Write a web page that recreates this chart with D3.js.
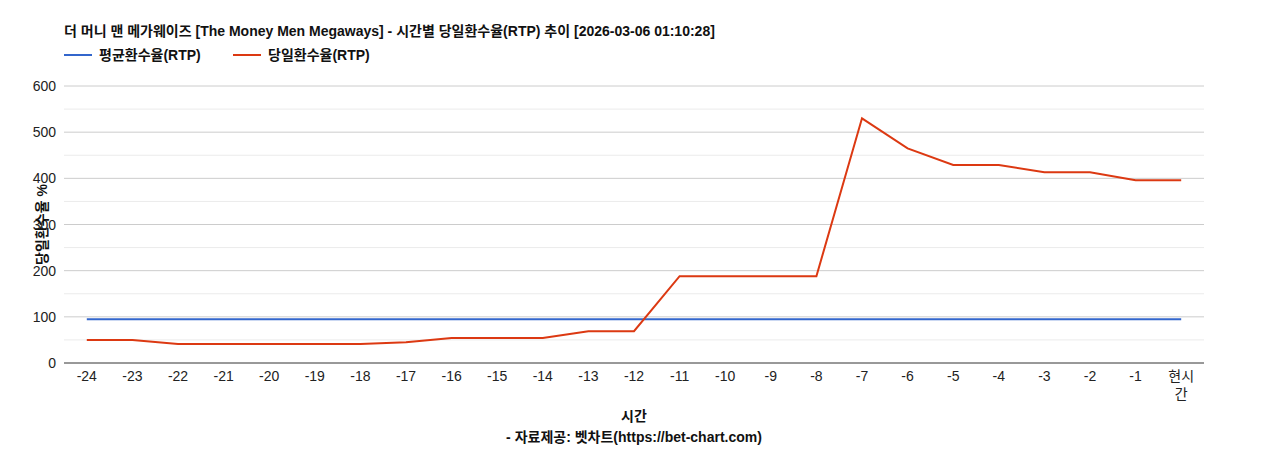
<!DOCTYPE html>
<html><head><meta charset="utf-8">
<script src="https://cdn.jsdelivr.net/npm/d3@7"></script>
<style>body{margin:0;background:#fff;font-family:Arial,"Noto Sans CJK KR",sans-serif}</style>
</head><body><svg id="c" width="1268" height="450"></svg>
<script>
// data
const categories = ["-24","-23","-22","-21","-20","-19","-18","-17","-16","-15","-14","-13","-12","-11","-10","-9","-8","-7","-6","-5","-4","-3","-2","-1","현시간"];
const avgRtp = categories.map(() => 95);
const dailyRtp = [50,50,41,41,41,41,41,45,54,54,54,69,69,188,188,188,188,530,465,429,429,413,413,396,396];
const yTicks = [0,100,200,300,400,500,600];

const svg = d3.select("#c");
const plotLeft = 64, plotRight = 1204, plotTop = 86, plotBottom = 363;
const font = 'Arial,"Noto Sans CJK KR",sans-serif';

const x = d3.scaleBand().domain(categories).range([plotLeft, plotRight]);
const y = d3.scaleLinear().domain([0, 600]).range([plotBottom, plotTop]);

// gridlines (major + minor)
d3.range(50, 601, 50).forEach(v => {
    svg.append("line").attr("x1", plotLeft).attr("x2", plotRight)
        .attr("y1", y(v)).attr("y2", y(v))
        .attr("stroke", v % 100 ? "#ebebeb" : "#cccccc");
});
svg.append("line").attr("x1", plotLeft).attr("x2", plotRight)
    .attr("y1", plotBottom).attr("y2", plotBottom).attr("stroke", "#333");

yTicks.forEach(v => {
    svg.append("text").attr("x", plotLeft - 8).attr("y", y(v) + 5)
        .attr("text-anchor", "end").attr("font-size", 14).attr("font-family", font)
        .attr("fill", "#222").text(v);
});

categories.forEach(c => {
    const cx = x(c) + x.bandwidth() / 2;
    const t = svg.append("text").attr("text-anchor", "middle").attr("font-size", 14)
        .attr("font-family", font).attr("fill", "#222");
    if (c === "현시간") {
        t.append("tspan").attr("x", cx).attr("y", 381).text("현시");
        t.append("tspan").attr("x", cx).attr("y", 399).text("간");
    } else {
        t.attr("x", cx).attr("y", 381).text(c);
    }
});

const line = d3.line().x((d, i) => x(categories[i]) + x.bandwidth() / 2).y(d => y(d));
svg.append("path").datum(avgRtp).attr("d", line).attr("fill", "none")
    .attr("stroke", "#3366cc").attr("stroke-width", 2);
svg.append("path").datum(dailyRtp).attr("d", line).attr("fill", "none")
    .attr("stroke", "#dc3912").attr("stroke-width", 2);

// titles
svg.append("text").attr("x", plotLeft).attr("y", 36).attr("font-size", 14).attr("font-weight", "bold")
    .attr("font-family", font).attr("fill", "#111")
    .text("더 머니 맨 메가웨이즈 [The Money Men Megaways] - 시간별 당일환수율(RTP) 추이 [2026-03-06 01:10:28]");

const legend = [["평균환수율(RTP)", "#3366cc", 64], ["당일환수율(RTP)", "#dc3912", 233]];
legend.forEach(([name, col, lx]) => {
    svg.append("line").attr("x1", lx).attr("x2", lx + 28).attr("y1", 55).attr("y2", 55)
        .attr("stroke", col).attr("stroke-width", 2);
    svg.append("text").attr("x", lx + 35).attr("y", 60).attr("font-size", 14).attr("font-weight", "bold")
        .attr("font-family", font).attr("fill", "#111").text(name);
});

svg.append("text").attr("transform", `translate(47,${(plotTop + plotBottom) / 2}) rotate(-90)`)
    .attr("text-anchor", "middle").attr("font-size", 14).attr("font-weight", "bold")
    .attr("font-family", font).attr("fill", "#111").text("당일환수율 %");

svg.append("text").attr("x", (plotLeft + plotRight) / 2).attr("y", 421).attr("text-anchor", "middle")
    .attr("font-size", 14).attr("font-weight", "bold").attr("font-family", font).attr("fill", "#111").text("시간");
svg.append("text").attr("x", (plotLeft + plotRight) / 2).attr("y", 442).attr("text-anchor", "middle")
    .attr("font-size", 14).attr("font-weight", "bold").attr("font-family", font).attr("fill", "#111")
    .text("- 자료제공: 벳차트(https://bet-chart.com)");
</script></body></html>
